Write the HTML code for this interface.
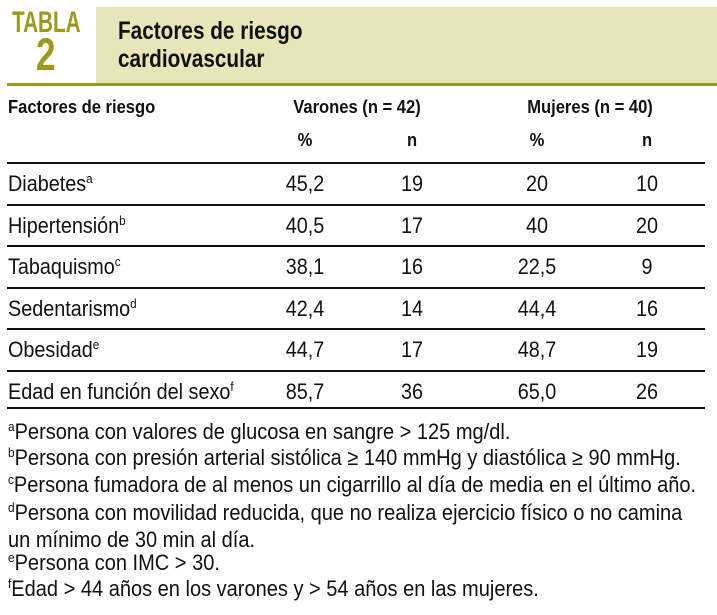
<!DOCTYPE html>
<html><head><meta charset="utf-8"><style>
body{margin:0;width:717px;height:615px;background:#fff;position:relative;overflow:hidden;font-family:"Liberation Sans Narrow","Liberation Sans",sans-serif;color:#111}
.a{position:absolute;white-space:nowrap;transform-origin:left top}
.b{font-weight:bold}
.c{transform-origin:center top}
.hr{position:absolute;left:7px;width:698px;height:2px;background:#111}
sup{font-size:13px;vertical-align:8px;line-height:0}
.r{font-size:22px;transform:scaleX(0.9)}
.r.c{transform:translateX(-50%) scaleX(0.9)}
.h{font-size:18px;transform:scaleX(0.92)}
.h.c{transform:translateX(-50%) scaleX(0.92)}
.f{font-size:22px;left:8px;transform:scaleX(0.91)}
</style></head><body>
<div class="a" style="left:96px;top:7px;width:621px;height:76px;background:#e8e6b8"></div>
<div class="a b" style="left:12px;top:6px;font-size:30px;color:#9b9a1c;transform:scaleX(0.69)">TABLA</div>
<div class="a b" style="left:36px;top:29px;font-size:45px;color:#9b9a1c;transform:scaleX(0.78)">2</div>
<div class="a b" style="left:118px;top:17px;font-size:25px;line-height:28px;transform:scaleX(0.83)">Factores de riesgo<br>cardiovascular</div>
<div class="a" style="left:7px;top:83px;width:710px;height:3px;background:#9b9a1c"></div>
<div class="a b h" style="left:8px;top:97px">Factores de riesgo</div>
<div class="a b h c" style="left:357px;top:97px">Varones (n = 42)</div>
<div class="a b h c" style="left:590px;top:97px">Mujeres (n = 40)</div>
<div class="a b h c" style="left:305px;top:130px">%</div>
<div class="a b h c" style="left:412px;top:130px">n</div>
<div class="a b h c" style="left:537px;top:130px">%</div>
<div class="a b h c" style="left:647px;top:130px">n</div>
<div id="rows"></div>
<div class="a f" style="top:419px"><sup>a</sup>Persona con valores de glucosa en sangre &gt; 125 mg/dl.</div>
<div class="a f" style="top:445px"><sup>b</sup>Persona con presión arterial sistólica ≥ 140 mmHg y diastólica ≥ 90 mmHg.</div>
<div class="a f" style="top:472px"><sup>c</sup>Persona fumadora de al menos un cigarrillo al día de media en el último año.</div>
<div class="a f" style="top:499px;line-height:27px"><sup>d</sup>Persona con movilidad reducida, que no realiza ejercicio físico o no camina<br>un mínimo de 30 min al día.</div>
<div class="a f" style="top:550px"><sup>e</sup>Persona con IMC &gt; 30.</div>
<div class="a f" style="top:576px"><sup>f</sup>Edad &gt; 44 años en los varones y &gt; 54 años en las mujeres.</div>
<script>
const factors=["Diabetes","Hipertensión","Tabaquismo","Sedentarismo","Obesidad","Edad en función del sexo"];
const sups=["a","b","c","d","e","f"];
const varPct=["45,2","40,5","38,1","42,4","44,7","85,7"];
const varN=["19","17","16","14","17","36"];
const mujPct=["20","40","22,5","44,4","48,7","65,0"];
const mujN=["10","20","9","16","19","26"];
const host=document.getElementById('rows');
const top0=162, rowH=41.5;
function hr(y){const d=document.createElement('div');d.className='hr';d.style.top=y+'px';


host.appendChild(d);}
hr(top0);
factors.forEach((f,i)=>{
 const y=top0+i*rowH+9;
 const l=document.createElement('div');l.className='a r';l.style.left='8px';l.style.top=y+'px';
 l.innerHTML=f+'<sup>'+sups[i]+'</sup>';
 
 
 host.appendChild(l);
 [[varPct,305],[varN,412],[mujPct,537],[mujN,647]].forEach(([arr,x])=>{
  const c=document.createElement('div');c.className='a r c';c.style.left=x+'px';c.style.top=y+'px';c.textContent=arr[i];
  
  
  host.appendChild(c);
 });
 hr(Math.round(top0+(i+1)*rowH)-(i==factors.length-1?4:0));
});
</script>
</body></html>
